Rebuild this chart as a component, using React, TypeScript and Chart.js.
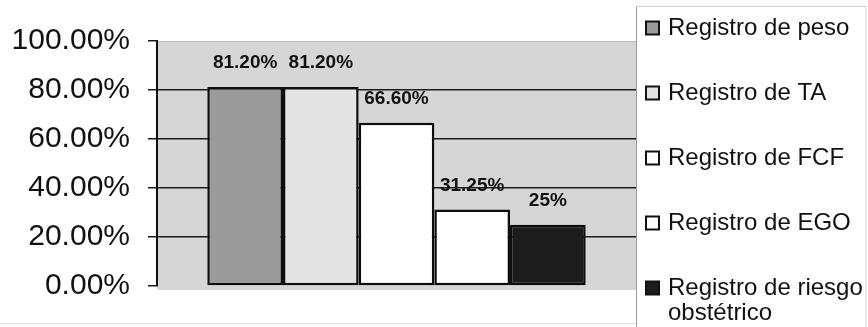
import React, { useEffect, useRef } from "react";
import { Chart, registerables } from "chart.js";

Chart.register(...registerables);

const categories = [""];
const seriesNames = [
  "Registro de peso",
  "Registro de TA",
  "Registro de FCF",
  "Registro de EGO",
  "Registro de riesgo obstétrico",
];
const legendLines = [
  ["Registro de peso"],
  ["Registro de TA"],
  ["Registro de FCF"],
  ["Registro de EGO"],
  ["Registro de riesgo", "obstétrico"],
];
const seriesValues = [81.2, 81.2, 66.6, 31.25, 25];
const valueLabels = ["81.20%", "81.20%", "66.60%", "31.25%", "25%"];
const seriesColors = ["#9b9b9b", "#e4e4e4", "#ffffff", "#ffffff", "#1c1c1c"];
const yTicks = [0, 20, 40, 60, 80, 100];

const FONT = "'Liberation Sans', Arial, sans-serif";

const bgPlugin = {
  id: "plotBg",
  beforeDraw(chart: any) {
    const { ctx, chartArea } = chart;
    ctx.save();
    ctx.fillStyle = "#ffffff";
    ctx.fillRect(0, 0, chart.width, chart.height);
    ctx.fillStyle = "#d6d6d6";
    ctx.fillRect(chartArea.left, chartArea.top, chartArea.right - chartArea.left, chartArea.bottom - chartArea.top + 4);
    ctx.strokeStyle = "#bdbdbd";
    ctx.lineWidth = 1;
    ctx.beginPath();
    ctx.moveTo(chartArea.left, chartArea.top + 0.5);
    ctx.lineTo(chartArea.right, chartArea.top + 0.5);
    ctx.stroke();
    ctx.strokeStyle = "#e2e2e2";
    ctx.beginPath();
    ctx.moveTo(0, chart.height - 3.5);
    ctx.lineTo(chartArea.right, chart.height - 3.5);
    ctx.stroke();
    ctx.restore();
  },
};

const labelPlugin = {
  id: "valueLabels",
  afterDatasetsDraw(chart: any) {
    const { ctx } = chart;
    ctx.save();
    ctx.font = `bold 19px ${FONT}`;
    ctx.fillStyle = "#111";
    ctx.textAlign = "center";
    ctx.textBaseline = "middle";
    chart.data.datasets.forEach((ds: any, i: number) => {
      const meta = chart.getDatasetMeta(i);
      const bar = meta.data[0];
      if (!bar) return;
      ctx.fillText(valueLabels[i], bar.x, bar.y - 24);
    });
    ctx.restore();
  },
};

const legendPlugin = {
  id: "sideLegend",
  afterDraw(chart: any) {
    const { ctx, chartArea } = chart;
    const left = chartArea.right;
    ctx.save();
    ctx.strokeStyle = "#9a9a9a";
    ctx.lineWidth = 1;
    ctx.beginPath();
    ctx.moveTo(left + 0.5, 6);
    ctx.lineTo(left + 0.5, chart.height);
    ctx.stroke();
    ctx.strokeStyle = "#d0d0d0";
    ctx.beginPath();
    ctx.moveTo(left, 6.5);
    ctx.lineTo(chart.width - 2, 6.5);
    ctx.lineTo(chart.width - 2, chart.height);
    ctx.stroke();

    ctx.font = `24px ${FONT}`;
    ctx.textBaseline = "middle";
    ctx.textAlign = "left";
    const top = 28;
    const step = 65;
    legendLines.forEach((lines, i) => {
      const cy = top + i * step;
      const ds = chart.data.datasets[i];
      ctx.fillStyle = ds.backgroundColor;
      ctx.fillRect(left + 10, cy - 6.5, 13, 13);
      ctx.strokeStyle = "#111";
      ctx.lineWidth = 2;
      ctx.strokeRect(left + 10, cy - 6.5, 13, 13);
      ctx.fillStyle = "#111";
      lines.forEach((t, j) => {
        ctx.fillText(t, left + 32, cy + j * 25);
      });
    });
    ctx.restore();
  },
};

export default function App() {
  const ref = useRef<HTMLCanvasElement | null>(null);
  useEffect(() => {
    document.body.style.margin = "0";
    const canvas = ref.current!;
    const chart = new Chart(canvas, {
      type: "bar",
      data: {
        labels: categories,
        datasets: seriesNames.map((name, i) => ({
          label: name,
          data: [seriesValues[i]],
          backgroundColor: seriesColors[i],
          borderColor: "#0d0d0d",
          borderWidth: 2.5,
          borderSkipped: false,
        })),
      },
      options: {
        animation: false,
        responsive: false,
        devicePixelRatio: 1,
        layout: { padding: { left: 0, right: 232, top: 41, bottom: 41 } },
        datasets: {
          bar: { categoryPercentage: 0.79, barPercentage: 1 },
        },
        plugins: {
          legend: { display: false },
          tooltip: { enabled: false },
          title: { display: false },
        },
        scales: {
          x: { display: false },
          y: {
            min: 0,
            max: 100,
            afterFit(scale: any) {
              scale.width = 157;
            },
            afterBuildTicks(scale: any) {
              scale.ticks = yTicks.map((v) => ({ value: v }));
            },
            ticks: {
              padding: 18,
              color: "#111",
              font: { family: FONT, size: 30 },
              callback: (v: any) => Number(v).toFixed(2) + "%",
            },
            grid: {
              color: (c: any) => (c.tick && (c.tick.value === 0 || c.tick.value === 100) ? "rgba(0,0,0,0)" : "#1a1a1a"),
              tickColor: "#1a1a1a",
              tickLength: 9,
              lineWidth: 1.5,
            },
            border: { color: "#111", width: 2 },
          },
        },
      },
      plugins: [bgPlugin, labelPlugin, legendPlugin],
    });
    return () => chart.destroy();
  }, []);
  return (
    <div style={{ width: 868, height: 327 }}>
      <canvas ref={ref} width={868} height={327} style={{ display: "block" }} />
    </div>
  );
}
